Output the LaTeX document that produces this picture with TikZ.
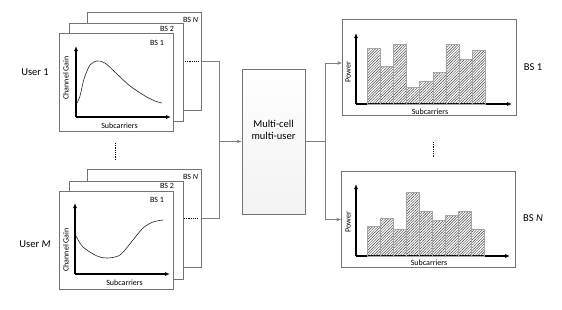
\documentclass[tikz,border=0pt]{standalone}
\usepackage{fontspec}
\setmainfont{Carlito}
\usetikzlibrary{arrows.meta,positioning,patterns.meta}

\begin{document}
\begin{tikzpicture}[x=1pt, y=-1pt,
  frame/.style={draw=gray!90!black, fill=white, line width=0.8pt, minimum width=114pt, minimum height=98pt, inner sep=0pt},
  pframe/.style={draw=gray!90!black, fill=white, line width=0.8pt, minimum width=174pt, minimum height=96pt, inner sep=0pt},
  ax/.style={-{Latex[length=5pt,width=4pt]}, line width=1.1pt},
  gain/.style={gray!30!black, line width=0.6pt},
  link/.style={gray, line width=0.8pt},
  arr/.style={-{Stealth[length=5pt,width=3.5pt]}, gray, line width=0.8pt},
  bar/.style={draw=gray!70, line width=0.5pt, pattern={Lines[angle=45,distance=1.9pt,line width=0.45pt]}, pattern color=gray!50!black},
  dots/.style={line width=0.8pt, dash pattern=on 0.8pt off 1pt},
  lbl/.style={font=\fontsize{8}{9}\selectfont, inner sep=0pt},
  big/.style={font=\fontsize{10.5}{12}\selectfont, inner sep=0pt}
]
\useasboundingbox (0,0) rectangle (562,309);

% user 1 stack
\node[frame] (u1bsN) at (144.5,61) {};
\node[frame] (u1bs2) at (126.5,72.5) {};
\node[frame] (u1bs1) at (116,82.5) {};
\node[lbl] (u1tN) at (190.5,20) {BS \textit{N}};
\node[lbl] (u1t2) at (167,29) {BS 2};
\node[lbl] (u1t1) at (157,43) {BS 1};
\draw[ax] (76,117) -- (76,46);
\draw[ax] (76,117) -- (171,117);
\node[lbl, rotate=90] (u1yl) at (66,78) {Channel Gain};
\node[lbl] (u1xl) at (119.5,126) {Subcarriers};
\draw[gain] plot[smooth] coordinates {(77,103) (80,96) (84,79) (90,65) (97,61) (105,63) (117,74) (130,86) (145,96) (155,101) (162,103)};
\draw[dots] ([xshift=-17pt]u1bsN.east) -- ([xshift=-3pt]u1bsN.east);
\node[big] (user1) at (35,72) {User 1};

% user M stack
\node[frame] (uMbsN) at (144.5,218.5) {};
\node[frame] (uMbs2) at (126.5,230) {};
\node[frame] (uMbs1) at (116,240) {};
\node[lbl] (uMtN) at (190.5,177) {BS \textit{N}};
\node[lbl] (uMt2) at (167,186) {BS 2};
\node[lbl] (uMt1) at (157,200) {BS 1};
\draw[ax] (75,274) -- (75,203);
\draw[ax] (75,274) -- (170,274);
\node[lbl, rotate=90] (uMyl) at (66,250) {Channel Gain};
\node[lbl] (uMxl) at (124.5,283) {Subcarriers};
\draw[gain] plot[smooth] coordinates {(76,236) (83,247) (97,256) (107,258) (120,255) (133,240) (143,228) (153,222) (163,220)};
\draw[dots] ([xshift=-18pt]uMbsN.east) -- ([xshift=-4pt]uMbsN.east);
\node[big] (userM) at (35,244) {User \textit{M}};

\draw[dots] (115,143) -- (115,160);

% scheduler
\node[draw=gray!90!black, top color=white, bottom color=gray!10, line width=0.8pt, minimum width=63pt, minimum height=145pt, align=center, big] (mcu) at (273.5,141.5) {Multi-cell\\multi-user\\[12pt]};

\coordinate (join) at (219,141.5);
\coordinate (split) at (325,141.5);
\draw[link] (u1bsN.east) -| (join);
\draw[link] (uMbsN.east) -| (join);
\draw[arr] (join) -- (mcu.west);
\draw[link] (mcu.east) -- (split);

% power allocation
\node[pframe] (pw1) at (429.5,67.5) {};
\draw[ax] (356,104) -- (356,33);
\draw[ax] (356,104) -- (512,104);
\foreach \t [count=\i from 0] in {48.3,66.7,44.3,87.3,81,72.3,44.3,59.3,50}
  \draw[bar] ({367.3+13.1*\i},104) rectangle ({380.4+13.1*\i},\t);
\node[lbl, rotate=90] (pw1yl) at (348,72) {Power};
\node[lbl] (pw1xl) at (430,112) {Subcarriers};
\node[big] (bs1) at (533,67) {BS 1};

\node[pframe] (pwN) at (428.5,219.5) {};
\draw[ax] (356,256) -- (356,184);
\draw[ax] (356,256) -- (510,256);
\foreach \t [count=\i from 0] in {226,218.3,229.3,192.7,211.3,220.7,215,211,229.3}
  \draw[bar] ({367+13*\i},256) rectangle ({380+13*\i},\t);
\node[lbl, rotate=90] (pwNyl) at (348,222) {Power};
\node[lbl] (pwNxl) at (429,263) {Subcarriers};
\node[big] (bsN) at (533,218) {BS \textit{N}};

\draw[dots] (433,142) -- (433,158);

\draw[arr] (split) |- ([yshift=4.5pt]pw1.west);
\draw[arr] (split) |- (pwN.west);
\end{tikzpicture}
\end{document}
